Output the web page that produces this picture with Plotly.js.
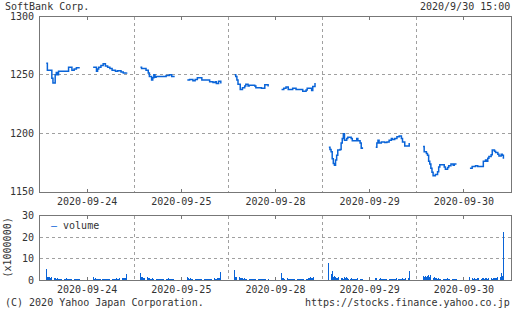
<!DOCTYPE html>
<html><head><meta charset="utf-8">
<script src="https://cdn.plot.ly/plotly-3.0.1.min.js"></script>
<style>html,body{margin:0;padding:0;background:#fff;}#chart{width:512px;height:310px;}</style>
</head><body><div id="chart"></div>
<script>
// ---- data ----
const tradingDays = ['2020-09-24','2020-09-25','2020-09-28','2020-09-29','2020-09-30'];
const priceTicks = [1150, 1200, 1250, 1300];
const volumeTicks = [0, 10, 20, 30];

// price (yen), change points of 5-minute data
const price0924Times = ['09:00','09:05','09:25','09:30','09:40','09:45','09:50','09:55','10:40','10:55','11:05','11:15','11:30',
  '12:30','12:45','12:50','12:55','13:05','13:15','13:25','13:35','13:45','13:55','14:10','14:20','14:35','14:45','15:00'];
const price0924Values = [1260,1254,1247,1243,1250,1252,1250,1253,1256.5,1254,1255,1256,1256,
  1256.5,1253,1255,1256.5,1258,1259.5,1257.5,1256.5,1255.5,1254,1253,1253.5,1252.5,1251.5,1252];

const price0925Times = ['09:00','09:05','09:25','09:35','09:40','09:50','09:55','10:00','10:05','10:10','10:55','11:10','11:20','11:30',
  '12:30','12:40','12:55','13:05','13:15','13:35','14:10','14:25','14:35','14:40','14:50','15:00'];
const price0925Values = [1256.5,1255.5,1254,1251.5,1248.5,1245.5,1247.5,1250,1248,1248.5,1249.5,1250,1248.5,1248,
  1245.5,1246,1245,1246,1247.5,1245.5,1244,1243.5,1244,1242.5,1244.5,1242.5];

const price0928Times = ['09:00','09:05','09:10','09:15','09:25','09:35','09:45','09:50','10:00','10:05','10:30','10:35','11:00','11:15','11:30',
  '12:30','12:40','12:50','13:00','13:20','13:35','14:05','14:20','14:25','14:45','14:50','15:00'];
const price0928Values = [1250,1248.5,1245.5,1242,1237.5,1239,1240.5,1242,1240.5,1241,1240.5,1239,1238.5,1241.5,1240,
  1237.5,1238.5,1239.5,1237.5,1238.5,1237.5,1236,1237,1238.5,1236.5,1240,1243];

const price0929Times = ['09:00','09:05','09:10','09:15','09:20','09:25','09:30','09:35','09:40','09:50','09:55','10:00','10:05','10:10','10:20','10:25','10:40','10:45','11:05','11:10','11:20','11:25','11:30',
  '12:30','12:35','12:40','12:45','12:55','13:10','13:20','13:30','13:40','13:45','13:55','14:05','14:15','14:25','14:30','14:40','15:00'];
const price0929Values = [1188,1186,1184,1178,1174,1172.5,1177,1181,1185.5,1186,1191.5,1195.5,1199.5,1194,1195.5,1196.5,1195.5,1193.5,1195.5,1193.5,1191.5,1187,1188,
  1188,1191.5,1194,1191.5,1192.5,1192,1192.5,1194,1195.5,1194.5,1195.5,1197,1197.5,1195.5,1192.5,1189,1191.5];

const price0930Times = ['09:00','09:05','09:15','09:20','09:25','09:30','09:35','09:40','09:45','09:55','10:05','10:10','10:15','10:35','10:40','10:50','10:55','11:05','11:15','11:20','11:30',
  '12:30','12:40','12:55','13:05','13:30','13:40','13:45','13:50','13:55','14:05','14:10','14:20','14:25','14:35','14:40','14:50','14:55','15:00'];
const price0930Values = [1188.5,1184,1182.5,1181,1176,1173.5,1170,1166.5,1163.5,1164.5,1167,1171,1173,1171,1169,1170.5,1172,1173.5,1172.5,1173.5,1173.5,
  1170,1171.5,1172,1171.5,1176,1177,1176,1178.5,1180,1181.5,1185.5,1184.5,1183.5,1182,1180.5,1182,1181,1178];

// volume (x1,000,000), 5-minute slots
const volumeSlotsAM = ['09:00','09:05','09:10','09:15','09:20','09:25','09:30','09:35','09:40','09:45','09:50','09:55',
  '10:00','10:05','10:10','10:15','10:20','10:25','10:30','10:35','10:40','10:45','10:50','10:55',
  '11:00','11:05','11:10','11:15','11:20','11:25','11:30'];
const volumeSlotsPM = ['12:30','12:35','12:40','12:45','12:50','12:55','13:00','13:05','13:10','13:15','13:20','13:25',
  '13:30','13:35','13:40','13:45','13:50','13:55','14:00','14:05','14:10','14:15','14:20','14:25',
  '14:30','14:35','14:40','14:45','14:50','14:55','15:00'];
const volume0924AM = [5.2,1.6,1.3,1.4,1.1,1.7,1.2,0.9,1.0,0.8,0.9,0.7,0.8,0.6,0.7,0.8,0.6,0.7,0.9,0.6,0.5,0.7,0.6,0.8,0.5,0.6,0.7,0.5,0.6,0.4,0.7];
const volume0924PM = [1.5,0.8,0.9,0.7,0.8,0.6,0.7,0.6,0.8,0.5,0.6,0.7,0.6,0.5,0.7,0.6,0.8,0.6,0.5,0.7,0.6,0.9,0.7,0.8,1.0,0.8,0.9,1.1,0.9,1.2,2.9];
const volume0925AM = [3.5,1.3,1.6,1.2,1.0,1.4,1.6,1.2,0.9,0.8,0.7,0.9,0.6,0.8,0.7,0.6,0.5,0.7,0.6,0.8,0.5,0.6,0.7,0.5,0.6,0.9,0.5,0.6,0.5,0.4,0.6];
const volume0925PM = [1.4,0.9,0.8,1.0,0.7,0.8,0.6,0.7,0.6,0.5,0.7,0.6,0.8,0.6,0.5,0.7,0.6,0.5,0.7,0.6,0.8,0.7,0.6,0.8,0.9,0.7,0.8,1.0,0.9,1.1,3.9];
const volume0928AM = [4.8,1.7,1.3,1.0,1.5,1.1,0.9,1.0,0.8,0.9,0.7,0.8,0.6,0.7,0.6,0.8,0.5,0.6,0.7,0.5,0.6,0.7,0.5,0.6,0.5,0.7,0.6,0.5,0.4,0.6,0.5];
const volume0928PM = [3.5,1.2,0.9,0.8,0.7,0.9,0.6,0.7,0.8,0.6,0.5,0.7,0.6,0.8,0.6,0.7,0.5,0.6,0.8,0.7,0.6,0.9,0.7,0.8,1.0,0.9,1.5,1.0,1.2,1.6,5.9];
const volume0929AM = [8.2,3.7,2.9,4.2,1.5,2.0,1.4,1.2,1.0,1.3,1.1,0.9,1.0,0.8,1.5,1.2,1.4,0.9,0.8,0.7,0.9,0.6,0.8,0.7,0.6,0.8,0.9,1.0,0.8,0.6,0.7];
const volume0929PM = [1.2,0.9,0.8,0.7,0.9,0.6,0.7,0.8,0.6,0.7,0.5,0.6,0.8,0.7,0.6,0.7,0.8,0.6,0.7,0.9,0.8,0.7,0.6,0.8,0.9,0.7,0.8,0.9,1.0,1.1,4.2];
const volume0930AM = [2.0,1.5,2.0,1.4,2.2,2.5,1.6,2.3,1.2,1.0,1.3,0.9,1.1,0.8,0.9,0.7,0.8,1.0,0.7,0.8,0.6,0.7,0.9,0.6,0.7,0.8,0.6,0.7,0.5,0.6,0.7];
const volume0930PM = [1.5,0.9,1.0,0.8,0.9,0.7,0.8,1.0,0.9,0.8,0.7,1.1,0.9,0.8,1.0,0.9,0.8,1.2,0.9,1.0,0.8,1.1,1.0,1.2,1.0,1.3,1.1,1.4,3.5,2.0,22.5];

// ---- build ----
const DAY_START = 8*60 + 32;   // axis window of each trading day
const DAY_SPAN = 422;          // minutes shown per day
const LUNCH = 12*60;
function minutes(hhmm){ const p = hhmm.split(':').map(Number); return p[0]*60 + p[1]; }
function pos(d, hhmm){ return d*DAY_SPAN + minutes(hhmm) - DAY_START; }

const priceTimes = [price0924Times, price0925Times, price0928Times, price0929Times, price0930Times];
const priceValues = [price0924Values, price0925Values, price0928Values, price0929Values, price0930Values];
const px = [], py = [];
priceTimes.forEach((times, d) => {
  times.forEach((t, i) => {
    if (i > 0 && minutes(times[i-1]) < LUNCH && minutes(t) > LUNCH) { px.push(null); py.push(null); }
    px.push(pos(d, t)); py.push(priceValues[d][i]);
  });
  px.push(null); py.push(null);
});

const volumeAM = [volume0924AM, volume0925AM, volume0928AM, volume0929AM, volume0930AM];
const volumePM = [volume0924PM, volume0925PM, volume0928PM, volume0929PM, volume0930PM];
const vx = [], vy = [];
tradingDays.forEach((day, d) => {
  volumeSlotsAM.forEach((t, i) => { vx.push(pos(d, t)); vy.push(volumeAM[d][i]); });
  volumeSlotsPM.forEach((t, i) => { vx.push(pos(d, t)); vy.push(volumePM[d][i]); });
});

const BLUE = '#0a64d8';
const FRAME = '#777';
const GRID = '#a0a0a0';
const tickPos = tradingDays.map((_, d) => (d + 0.5) * DAY_SPAN);
const xRange = [0, tradingDays.length * DAY_SPAN];
const W = 512, H = 310;
const xDomain = [40/W, 511/W];

const xCommon = {
  domain: xDomain,
  range: xRange, tickmode: 'array', tickvals: tickPos, ticktext: tradingDays,
  showgrid: false, zeroline: false, showline: true, linecolor: FRAME, linewidth: 1,
  mirror: 'ticks', ticks: 'inside', ticklen: 3, tickcolor: FRAME, tickwidth: 1,
  minor: { tickmode: 'linear', tick0: 0, dtick: DAY_SPAN, showgrid: true, gridcolor: GRID, griddash: '3px,3px', gridwidth: 1, ticks: '' },
  fixedrange: true
};
const yCommon = {
  showgrid: true, gridcolor: GRID, griddash: '3px,3px', gridwidth: 1, zeroline: false,
  showline: true, linecolor: FRAME, linewidth: 1, mirror: true, ticks: '', tickmode: 'array',
  ticklabelstandoff: 3, fixedrange: true
};

const traces = [
  { x: px, y: py, type: 'scatter', mode: 'lines', line: { color: BLUE, width: 1.5, shape: 'hv' },
    connectgaps: false, xaxis: 'x', yaxis: 'y', showlegend: false, hoverinfo: 'skip' },
  { x: vx, y: vy, type: 'bar', marker: { color: BLUE, line: { width: 0 } }, width: 4,
    xaxis: 'x2', yaxis: 'y2', showlegend: false, hoverinfo: 'skip' }
];

const layout = {
  width: W, height: H,
  margin: { l: 0, r: 0, t: 0, b: 0 },
  paper_bgcolor: '#fff', plot_bgcolor: '#fff',
  font: { family: 'DejaVu Sans Mono, monospace', size: 10, color: '#333' },
  showlegend: false, bargap: 0,
  xaxis: Object.assign({}, xCommon, { anchor: 'y' }),
  yaxis: Object.assign({}, yCommon, { domain: [(H-191.5)/H, (H-16.5)/H], range: [1150, 1300], tickvals: priceTicks, anchor: 'x' }),
  xaxis2: Object.assign({}, xCommon, { anchor: 'y2' }),
  yaxis2: Object.assign({}, yCommon, { domain: [(H-280.3)/H, (H-215.7)/H], range: [0, 30], tickvals: volumeTicks, anchor: 'x2' }),
  annotations: [
    { text: 'SoftBank Corp.', xref: 'paper', yref: 'paper', x: 3/W, y: 1 - 6.5/H, xanchor: 'left', yanchor: 'middle', showarrow: false },
    { text: '2020/9/30 15:00', xref: 'paper', yref: 'paper', x: 512/W, y: 1 - 6.5/H, xanchor: 'right', yanchor: 'middle', showarrow: false },
    { text: '(C) 2020 Yahoo Japan Corporation.', xref: 'paper', yref: 'paper', x: 3/W, y: 1 - 302/H, xanchor: 'left', yanchor: 'middle', showarrow: false },
    { text: 'https://stocks.finance.yahoo.co.jp', xref: 'paper', yref: 'paper', x: 512/W, y: 1 - 302/H, xanchor: 'right', yanchor: 'middle', showarrow: false },
    { text: '(x1000000)', xref: 'paper', yref: 'paper', x: 6.5/W, y: 1 - 248/H, xanchor: 'center', yanchor: 'middle', textangle: -90, showarrow: false },
    { text: '<span style="color:' + BLUE + '">—</span> volume', xref: 'paper', yref: 'paper', x: 49/W, y: 1 - 225.5/H, xanchor: 'left', yanchor: 'middle', showarrow: false }
  ]
};

Plotly.newPlot('chart', traces, layout, { staticPlot: true, displayModeBar: false });
</script>
</body></html>
